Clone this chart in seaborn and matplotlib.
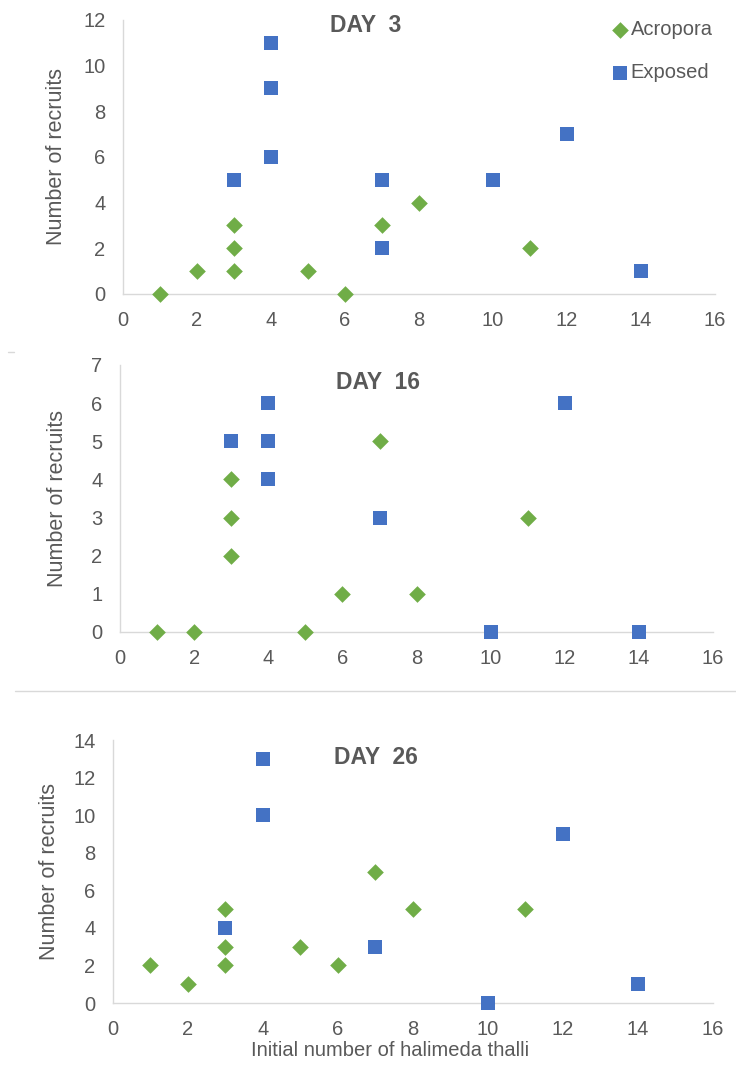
import numpy as np
import pandas as pd
import matplotlib.pyplot as plt
from matplotlib.lines import Line2D
import seaborn as sns

sns.set_style("white")
plt.rcParams['font.family'] = ['Liberation Sans', 'DejaVu Sans']

GREEN = '#70AD47'
BLUE = '#4472C4'
TEXT = '#595959'
AXIS = '#D9D9D9'

# Day 3
d3_acro_x = [1, 2, 3, 3, 3, 5, 6, 7, 8, 11]
d3_acro_y = [0, 1, 1, 2, 3, 1, 0, 3, 4, 2]
d3_exp_x = [3, 4, 4, 4, 7, 7, 10, 12, 14]
d3_exp_y = [5, 11, 9, 6, 5, 2, 5, 7, 1]

# Day 16
d16_acro_x = [1, 2, 3, 3, 3, 5, 6, 7, 8, 11]
d16_acro_y = [0, 0, 4, 3, 2, 0, 1, 5, 1, 3]
d16_exp_x = [3, 4, 4, 4, 7, 10, 12, 14]
d16_exp_y = [5, 6, 5, 4, 3, 0, 6, 0]

# Day 26
d26_acro_x = [1, 2, 3, 3, 3, 5, 6, 7, 8, 11]
d26_acro_y = [2, 1, 5, 3, 2, 3, 2, 7, 5, 5]
d26_exp_x = [3, 4, 4, 7, 10, 12, 14]
d26_exp_y = [4, 13, 10, 3, 0, 9, 1]

panels = [
    ("DAY  3", d3_acro_x, d3_acro_y, d3_exp_x, d3_exp_y, 12, 2),
    ("DAY  16", d16_acro_x, d16_acro_y, d16_exp_x, d16_exp_y, 7, 1),
    ("DAY  26", d26_acro_x, d26_acro_y, d26_exp_x, d26_exp_y, 14, 2),
]

# axes boxes in figure fraction (left, bottom, width, height)
boxes = [
    [0.167, 0.7288, 0.804, 0.2528],
    [0.163, 0.4170, 0.806, 0.2463],
    [0.1535, 0.0747, 0.815, 0.2426],
]
title_pos = [(0.41, 0.978), (0.435, 0.934), (0.438, 0.933)]
ylab_x = [-0.094, -0.088, -0.088]

fig = plt.figure(figsize=(7.36, 10.84), dpi=100)

for i, (title, ax_x, ax_y, ex_x, ex_y, ymax, ystep) in enumerate(panels):
    ax = fig.add_axes(boxes[i])
    acro = pd.DataFrame({'x': ax_x, 'y': ax_y})
    exp = pd.DataFrame({'x': ex_x, 'y': ex_y})
    sns.scatterplot(data=acro, x='x', y='y', marker='D', color=GREEN, s=72,
                    linewidth=0, ax=ax, label='Acropora', clip_on=False, zorder=3)
    sns.scatterplot(data=exp, x='x', y='y', marker='s', color=BLUE, s=108,
                    linewidth=0, ax=ax, label='Exposed', clip_on=False, zorder=3)

    ax.set_xlim(0, 16)
    ax.set_ylim(0, ymax)
    ax.set_xticks(np.arange(0, 17, 2))
    ax.set_yticks(np.arange(0, ymax + 1, ystep))
    ax.tick_params(length=0, pad=12.5, labelsize=14.5, colors=TEXT)
    for side in ['top', 'right']:
        ax.spines[side].set_visible(False)
    for side in ['left', 'bottom']:
        ax.spines[side].set_color(AXIS)
        ax.spines[side].set_linewidth(1.0)

    ax.set_ylabel('Number of recruits', fontsize=15.5, color=TEXT)
    ax.yaxis.set_label_coords(ylab_x[i], 0.5)
    if i == 2:
        ax.set_xlabel('Initial number of halimeda thalli', fontsize=14.5,
                      color=TEXT)
        ax.xaxis.set_label_coords(0.462, -0.145)
    else:
        ax.set_xlabel('')

    ax.text(title_pos[i][0], title_pos[i][1], title, transform=ax.transAxes,
            ha='center', va='center', fontsize=16.5, fontweight='bold', color=TEXT)

    if i == 0:
        ax.legend(loc='upper left', bbox_to_anchor=(0.826, 1.0), frameon=False,
                  borderaxespad=0, borderpad=0, handlelength=0.8,
                  handletextpad=0.15, labelspacing=1.2, fontsize=14.5,
                  labelcolor=TEXT)
    else:
        ax.get_legend().remove()

# faint separators from the stacked screenshots
fig.add_artist(Line2D([15 / 736, 1.0], [1 - 691 / 1084] * 2, color=AXIS, lw=1))
fig.add_artist(Line2D([8 / 736, 14 / 736], [1 - 352 / 1084] * 2, color=AXIS, lw=1))

fig.savefig('out.png', dpi=100)
